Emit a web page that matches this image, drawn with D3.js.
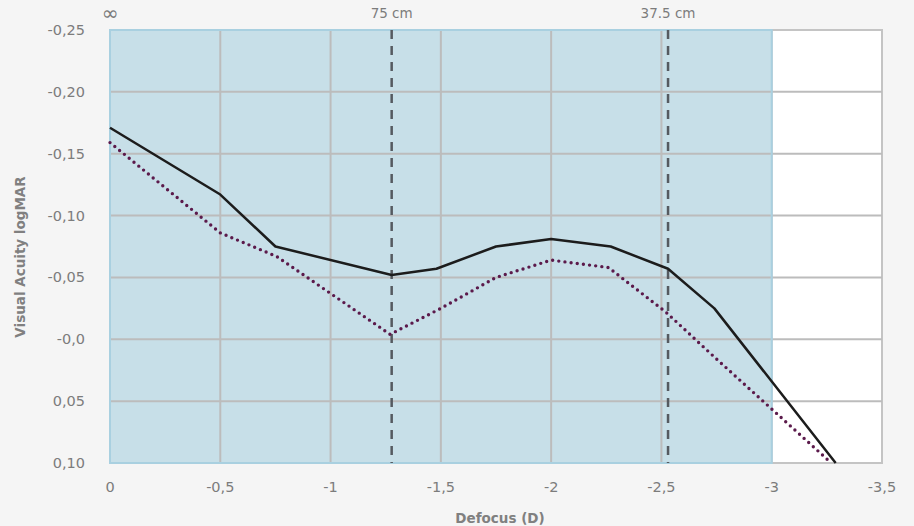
<!DOCTYPE html>
<html>
<head>
<meta charset="utf-8">
<script src="https://cdn.jsdelivr.net/npm/d3@7"></script>
<style>
  body { margin: 0; background: #f5f5f5; }
  svg { display: block; font-family: "DejaVu Sans", sans-serif; }
  .tick-label { fill: #7c7c7c; font-size: 14.5px; }
  .axis-title { fill: #808080; font-size: 13.5px; font-weight: bold; }
</style>
</head>
<body>
<div id="chart"></div>
<script>
// defocus values (D) and logMAR acuity
var solidDefocus = [0, -0.5, -0.75, -1.277, -1.48, -1.75, -2, -2.27, -2.53, -2.74, -3.29];
var solidAcuity  = [-0.171, -0.117, -0.075, -0.052, -0.057, -0.075, -0.081, -0.075, -0.057, -0.025, 0.10];

var dottedDefocus = [0, -0.5, -0.755, -1.27, -1.5, -1.75, -2, -2.26, -2.52, -2.75, -3.27];
var dottedAcuity  = [-0.159, -0.086, -0.067, -0.004, -0.025, -0.050, -0.064, -0.058, -0.022, 0.016, 0.10];

var xTicks = [0, -0.5, -1, -1.5, -2, -2.5, -3, -3.5];
var xTickLabels = ["0", "-0,5", "-1", "-1,5", "-2", "-2,5", "-3", "-3,5"];
var yTicks = [-0.25, -0.20, -0.15, -0.10, -0.05, 0, 0.05, 0.10];
var yTickLabels = ["-0,25", "-0,20", "-0,15", "-0,10", "-0,05", "-0,0", "0,05", "0,10"];

var distanceMarks = [-1.277, -2.53];
var distanceLabels = ["75 cm", "37.5 cm"];
var shadedRange = [0, -3];

var width = 914, height = 526;
var margin = {left: 110, right: 32, top: 30, bottom: 63};

var svg = d3.select("#chart").append("svg").attr("width", width).attr("height", height);

var x = d3.scaleLinear().domain([0, -3.5]).range([margin.left, width - margin.right]);
var y = d3.scaleLinear().domain([-0.25, 0.10]).range([margin.top, height - margin.bottom]);

// plot backgrounds
svg.append("rect")
  .attr("x", x(shadedRange[1])).attr("y", y(-0.25))
  .attr("width", x(-3.5) - x(shadedRange[1])).attr("height", y(0.10) - y(-0.25))
  .attr("fill", "#ffffff").attr("stroke", "#c4c4c4").attr("stroke-width", 2);

svg.append("rect")
  .attr("x", x(shadedRange[0])).attr("y", y(-0.25))
  .attr("width", x(shadedRange[1]) - x(shadedRange[0])).attr("height", y(0.10) - y(-0.25))
  .attr("fill", "#c7dfe8");

// grid
var grid = svg.append("g").attr("stroke", "#bcbcbc").attr("stroke-width", 2);
grid.selectAll("line.h").data(yTicks.slice(1, -1)).enter().append("line")
  .attr("x1", x(0)).attr("x2", x(-3.5))
  .attr("y1", function(d){ return y(d); }).attr("y2", function(d){ return y(d); });
grid.selectAll("line.v").data(xTicks.slice(1, -2)).enter().append("line")
  .attr("x1", function(d){ return x(d); }).attr("x2", function(d){ return x(d); })
  .attr("y1", y(-0.25)).attr("y2", y(0.10));

// blue frame around shaded part
svg.append("rect")
  .attr("x", x(shadedRange[0])).attr("y", y(-0.25))
  .attr("width", x(shadedRange[1]) - x(shadedRange[0])).attr("height", y(0.10) - y(-0.25))
  .attr("fill", "none").attr("stroke", "#a9d0e0").attr("stroke-width", 2);

// distance markers
svg.append("g").selectAll("line").data(distanceMarks).enter().append("line")
  .attr("x1", function(d){ return x(d); }).attr("x2", function(d){ return x(d); })
  .attr("y1", y(-0.25)).attr("y2", y(0.10))
  .attr("stroke", "#555a60").attr("stroke-width", 2.5).attr("stroke-dasharray", "9,7");

svg.append("g").selectAll("text").data(distanceLabels).enter().append("text")
  .attr("class", "tick-label").style("font-size", "13.5px")
  .attr("x", function(d, i){ return x(distanceMarks[i]); }).attr("y", 18)
  .attr("text-anchor", "middle").text(function(d){ return d; });

svg.append("text").attr("class", "tick-label").style("font-size", "20px")
  .attr("x", x(0)).attr("y", 20).attr("text-anchor", "middle").text("\u221E");

// series
var line = d3.line().x(function(d){ return x(d[0]); }).y(function(d){ return y(d[1]); });

svg.append("path")
  .datum(dottedDefocus.map(function(d, i){ return [d, dottedAcuity[i]]; }))
  .attr("d", line).attr("fill", "none")
  .attr("stroke", "#5b1a4b").attr("stroke-width", 3.4)
  .attr("stroke-linecap", "round").attr("stroke-dasharray", "0,6.2");

svg.append("path")
  .datum(solidDefocus.map(function(d, i){ return [d, solidAcuity[i]]; }))
  .attr("d", line).attr("fill", "none")
  .attr("stroke", "#1c1c1c").attr("stroke-width", 2.5)
  .attr("stroke-linejoin", "round");

// tick labels
svg.append("g").selectAll("text").data(yTicks).enter().append("text")
  .attr("class", "tick-label")
  .attr("x", 85).attr("y", function(d){ return y(d) + 5; })
  .attr("text-anchor", "end").text(function(d, i){ return yTickLabels[i]; });

svg.append("g").selectAll("text").data(xTicks).enter().append("text")
  .attr("class", "tick-label")
  .attr("x", function(d){ return x(d); }).attr("y", 492)
  .attr("text-anchor", "middle").text(function(d, i){ return xTickLabels[i]; });

// axis titles
svg.append("text").attr("class", "axis-title")
  .attr("x", 500).attr("y", 523).attr("text-anchor", "middle").text("Defocus (D)");

svg.append("text").attr("class", "axis-title")
  .attr("transform", "translate(25,257) rotate(-90)")
  .attr("text-anchor", "middle").text("Visual Acuity logMAR");
</script>
</body>
</html>
